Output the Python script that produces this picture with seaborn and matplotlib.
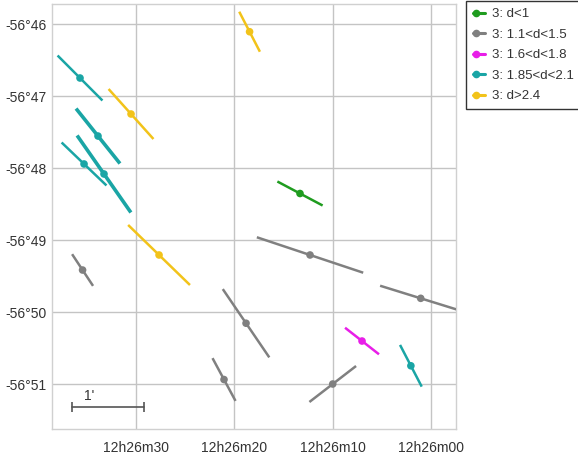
import numpy as np
import pandas as pd
import matplotlib.pyplot as plt
import seaborn as sns
from matplotlib.lines import Line2D
from matplotlib.legend_handler import HandlerBase

# polarisation vectors: centre RA (seconds after 12h26m00), centre Dec (arcmin below -56 deg),
# vector length (arcmin) and position angle (deg, N through E)
ra_sec = [35.71, 33.88, 35.30, 33.27, 2.05,
          30.52, 18.46, 27.67,
          13.33,
          7.02,
          35.45, 21.06, 18.82, 12.31, 1.05, 10.0]
dec_min = [46.75, 47.556, 47.944, 48.083, 50.747,
           47.25, 46.107, 49.208,
           48.354,
           50.403,
           49.417, 50.938, 50.156, 49.208, 49.81, 51.0]
length_arcmin = [0.884, 0.978, 0.864, 1.306, 0.653,
                 0.934, 0.626, 1.198,
                 0.713,
                 0.599,
                 0.528, 0.675, 1.148, 1.56, 1.183, 0.819]
pa_deg = [45.0, 38.7, 46.3, 35.0, 27.5,
          42.0, 27.4, 45.9,
          62.1,
          52.0,
          33.5, 28.3, 34.3, 71.6, 72.8, 127.6]
group = ["3: 1.85<d<2.1"] * 5 + ["3: d>2.4"] * 3 + ["3: d<1"] + ["3: 1.6<d<1.8"] + ["3: 1.1<d<1.5"] * 6

categories = ["3: d<1", "3: 1.1<d<1.5", "3: 1.6<d<1.8", "3: 1.85<d<2.1", "3: d>2.4"]
colors = ["#1f9c1f", "#808080", "#e81ee8", "#1aa5a5", "#f2c31a"]
palette = dict(zip(categories, colors))

ra_ticks = [30, 20, 10, 0]
ra_labels = ["12h26m30", "12h26m20", "12h26m10", "12h26m00"]
dec_ticks = [46, 47, 48, 49, 50, 51]
dec_labels = ["-56°46", "-56°47", "-56°48", "-56°49", "-56°50", "-56°51"]

df = pd.DataFrame({"ra": ra_sec, "dec": dec_min, "L": length_arcmin, "pa": pa_deg, "group": group})
df["y"] = -df["dec"]
# half vector in sky offsets, converted to RA seconds / arcmin
cosd = np.cos(np.radians(56 + df["dec"] / 60))
half_e = df["L"] / 2 * np.sin(np.radians(df["pa"]))
half_n = df["L"] / 2 * np.cos(np.radians(df["pa"]))
df["dra"] = half_e * 4 / cosd
df["dy"] = half_n

line_w = [1.8, 2.6, 1.8, 2.6, 1.8, 1.8, 1.8, 1.8, 1.8, 1.8, 1.8, 1.8, 1.8, 1.8, 1.8, 1.8]


class LeftDot(HandlerBase):
    # legend icon: short line with the dot at its left end
    def create_artists(self, legend, orig, xd, yd, width, height, fontsize, trans):
        y = height / 2 - yd
        ln = Line2D([-xd, width - xd], [y, y], color=orig.get_color(), lw=2.2)
        dot = Line2D([-xd + 2], [y], marker="o", markersize=5.5, color=orig.get_color(),
                     markeredgewidth=0)
        ln.set_transform(trans)
        dot.set_transform(trans)
        return [ln, dot]


sns.set_style("white")
plt.rcParams["font.family"] = ["Liberation Sans", "DejaVu Sans"]

fig = plt.figure(figsize=(5.78, 4.57), dpi=100)
ax = fig.add_axes([52 / 578, 1 - 429 / 457, 404 / 578, 425 / 457])

for i, r in df.iterrows():
    ax.plot([r.ra + r.dra, r.ra - r.dra], [r.y + r.dy, r.y - r.dy],
            color=palette[r.group], lw=line_w[i], solid_capstyle="butt", zorder=3)
sns.scatterplot(data=df, x="ra", y="y", hue="group", palette=palette, s=30,
                edgecolor="none", legend=False, ax=ax, zorder=4)

# 1 arcmin scale bar
bar_y = -51.315
bar_x0 = 36.52
bar_len = 4 / np.cos(np.radians(56.85))
ax.plot([bar_x0, bar_x0 - bar_len], [bar_y, bar_y], color="#555555", lw=1.2,
        marker="|", markersize=7, markeredgewidth=1.2, zorder=3)
ax.text(bar_x0 - 1.2, bar_y + 0.05, "1'", fontsize=10, color="#333333", va="bottom", ha="left")

ax.set_xlim(38.56, -2.54)
ax.set_ylim(-51.625, -45.722)
ax.set_xticks(ra_ticks)
ax.set_xticklabels(ra_labels)
ax.set_yticks([-d for d in dec_ticks])
ax.set_yticklabels(dec_labels)
ax.set_xlabel("")
ax.set_ylabel("")
ax.tick_params(length=0, labelsize=10, colors="#333333")
ax.tick_params(axis="x", pad=9)
ax.tick_params(axis="y", pad=4)
ax.grid(True, color="#c4c4c4", lw=1)
for s in ax.spines.values():
    s.set_color("#d0d0d0")
    s.set_linewidth(1)

handles = [Line2D([], [], color=c) for c in colors]
fig.legend(handles, categories, loc="upper left", bbox_to_anchor=(466 / 578, 1 - 1 / 457),
           handler_map={Line2D: LeftDot()}, handlelength=0.9, handletextpad=0.5,
           labelspacing=0.62, fancybox=False, edgecolor="#333333", framealpha=1,
           fontsize=9.5, borderpad=0.55, borderaxespad=0, labelcolor="#333333")

fig.savefig("out.png", dpi=100)
